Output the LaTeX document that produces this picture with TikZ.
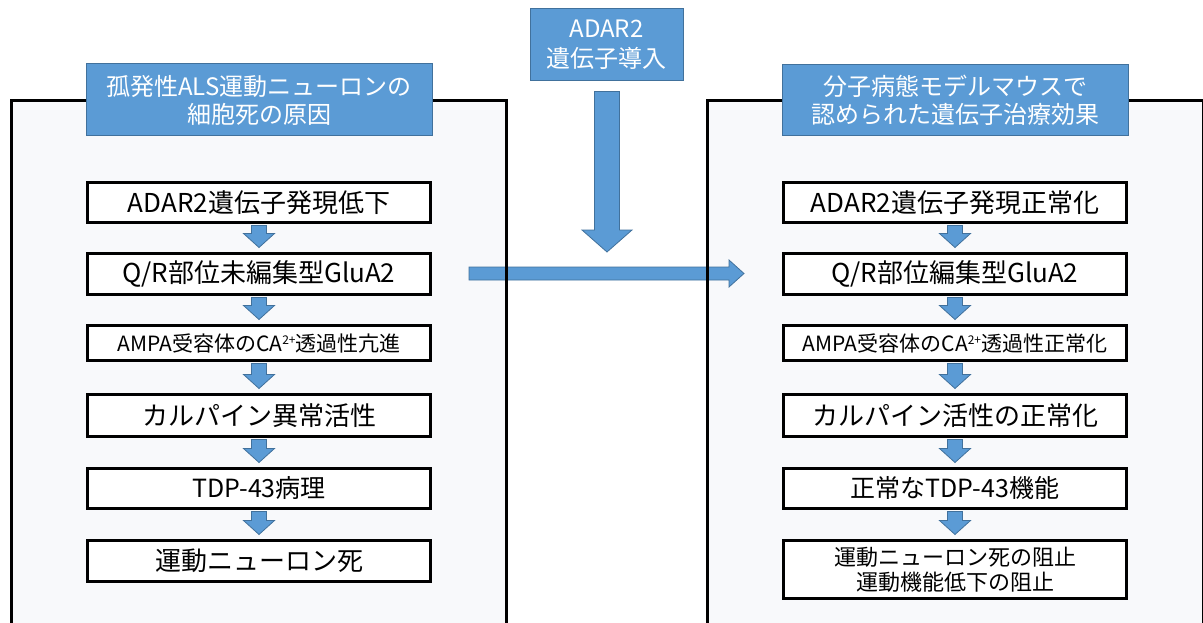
\documentclass[tikz,border=0pt]{standalone}
\usepackage{fontspec}
\setmainfont{Noto Sans CJK JP}
\usetikzlibrary{calc}
\definecolor{hblue}{HTML}{5B9BD5}
\definecolor{hborder}{HTML}{41719C}
\definecolor{panelbg}{HTML}{F8F9FB}
\tikzset{
  panelfill/.style={fill=panelbg, draw=none},
  panelline/.style={draw=black, line width=3pt},
  header/.style={fill=hblue, draw=hborder, line width=1pt, text=white, align=center, inner sep=0pt, font=\fontsize{24}{28}\selectfont},
  stepbox/.style={fill=white, draw=black, line width=3pt, align=center, inner sep=0pt, minimum width=343pt, font=\fontsize{26}{30}\selectfont},
  smallbox/.style={stepbox, font=\fontsize{21}{25}\selectfont},
  blk/.style={fill=hblue, draw=hborder, line width=0.8pt, line join=miter},
}
% down block arrow: #1 start, #2 tip, #3 shaft half width, #4 head half width, #5 head length
\newcommand\blkdown[5]{%
  \path[blk] let \p1=(#1), \p2=(#2) in
    (\x2-#3,\y1) -- (\x2+#3,\y1) -- (\x2+#3,\y2+#5) -- (\x2+#4,\y2+#5) -- (\x2,\y2)
    -- (\x2-#4,\y2+#5) -- (\x2-#3,\y2+#5) -- cycle;}
% right block arrow
\newcommand\blkright[5]{%
  \path[blk] let \p1=(#1), \p2=(#2) in
    (\x1,\y2+#3) -- (\x2-#5,\y2+#3) -- (\x2-#5,\y2+#4) -- (\x2,\y2) -- (\x2-#5,\y2-#4)
    -- (\x2-#5,\y2-#3) -- (\x1,\y2-#3) -- cycle;}
\newcommand\stepdown[2]{\blkdown{$(#1.south)+(0pt,-1.5pt)$}{$(#2.north)+(0pt,4.5pt)$}{7.5pt}{15.5pt}{14pt}}
\newcommand\casup{\raisebox{0.55ex}{\fontsize{12}{12}\selectfont 2+}}
\begin{document}
\begin{tikzpicture}[x=1pt,y=-1pt]
  \clip (0,0) rectangle (1203,623);
  \fill[white] (0,0) rectangle (1203,623);
  % panel fills
  \fill[panelfill] (11.5,100.5) rectangle (506.5,640);
  \fill[panelfill] (707.5,100.5) rectangle (1203,640);
  % horizontal arrow
  \coordinate (hs) at (469,273.5);
  \coordinate (he) at (744,273.5);
  \blkright{hs}{he}{6.5pt}{13.5pt}{15pt}
  % panel borders
  \draw[panelline] (11.5,640) -- (11.5,100.5) -- (506.5,100.5) -- (506.5,640);
  \draw[panelline] (707.5,640) -- (707.5,100.5) -- (1203,100.5) -- (1203,640);
  % headers
  \node[header, minimum width=346pt, minimum height=72pt] (lh) at (259,100) {孤発性ALS運動ニューロンの\\細胞死の原因};
  \node[header, minimum width=346pt, minimum height=71pt] (rh) at (955,100.5) {分子病態モデルマウスで\\認められた遺伝子治療効果};
  \node[header, minimum width=153pt, minimum height=72pt, font=\fontsize{24}{30}\selectfont] (ah) at (606.5,45) {ADAR2\\遺伝子導入};
  % big down arrow
  \coordinate (gtip) at (607,252);
  \blkdown{$(ah.south)+(0pt,-10pt)$}{gtip}{12.5pt}{25pt}{22pt}
  % left column
  \node[stepbox, minimum height=40pt] (l1) at (259,202.5) {ADAR2遺伝子発現低下};
  \node[stepbox, minimum height=41pt] (l2) at (259,274) {Q/R部位未編集型GluA2};
  \node[smallbox, minimum height=35pt] (l3) at (259,343) {AMPA受容体のCA\casup 透過性亢進};
  \node[stepbox, minimum height=42pt] (l4) at (259,415.5) {カルパイン異常活性};
  \node[stepbox, minimum height=40pt, font=\fontsize{25}{30}\selectfont] (l5) at (259,488.5) {TDP-43病理};
  \node[stepbox, minimum height=41pt] (l6) at (259,561) {運動ニューロン死};
  % right column
  \node[stepbox, minimum height=40pt] (r1) at (955,202.5) {ADAR2遺伝子発現正常化};
  \node[stepbox, minimum height=41pt] (r2) at (955,274) {Q/R部位編集型GluA2};
  \node[smallbox, minimum height=35pt] (r3) at (955,343) {AMPA受容体のCA\casup 透過性正常化};
  \node[stepbox, minimum height=42pt] (r4) at (955,415.5) {カルパイン活性の正常化};
  \node[stepbox, minimum height=40pt, font=\fontsize{25}{30}\selectfont] (r5) at (955,488.5) {正常なTDP-43機能};
  \node[stepbox, minimum height=58pt, font=\fontsize{22}{25}\selectfont] (r6) at (955,569.5) {運動ニューロン死の阻止\\運動機能低下の阻止};
  % small arrows
  \stepdown{l1}{l2}\stepdown{l2}{l3}\stepdown{l3}{l4}\stepdown{l4}{l5}\stepdown{l5}{l6}
  \stepdown{r1}{r2}\stepdown{r2}{r3}\stepdown{r3}{r4}\stepdown{r4}{r5}\stepdown{r5}{r6}
\end{tikzpicture}
\end{document}
